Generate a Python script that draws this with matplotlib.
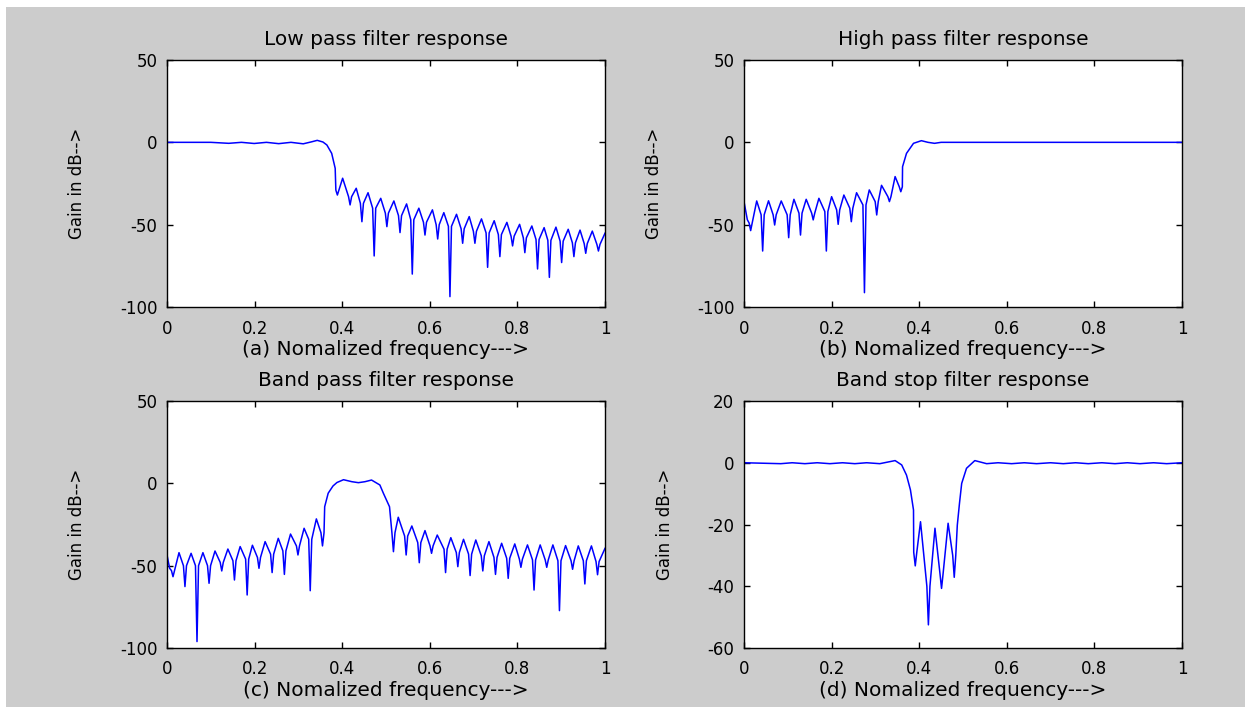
import matplotlib.pyplot as plt
from matplotlib.patches import Rectangle

plt.rcParams['font.family'] = ['DejaVu Sans']
plt.rcParams['axes.unicode_minus'] = False

# ---- low pass: passband, transition and lobe peaks ----
lp_f = [0, 0.10, 0.141, 0.17, 0.199, 0.227, 0.255, 0.283, 0.311, 0.330, 0.343, 0.356,
        0.365, 0.376, 0.384,
        0.401, 0.432, 0.459, 0.488, 0.518, 0.547, 0.575, 0.606, 0.632, 0.661,
        0.690, 0.718, 0.747, 0.776, 0.805, 0.833, 0.861, 0.888, 0.916, 0.943,
        0.971, 1.0]
lp_g = [0, 0, -0.6, 0, -0.7, 0, -0.8, 0, -0.9, 0.3, 1.2, 0.2,
        -1.6, -6.7, -15.8,
        -21.8, -27.9, -30.6, -34, -35.6, -37.4, -40, -41, -42.7, -43.7,
        -45.1, -46.5, -47.6, -48.6, -49.8, -50.8, -51.8, -51.5, -52.8, -53.3,
        -53.9, -55.2]
# nulls: frequency, depth, level where the spike leaves the lobes
lp_nf = [0.389, 0.418, 0.445, 0.473, 0.502, 0.532, 0.560, 0.589, 0.618, 0.646,
         0.675, 0.703, 0.732, 0.760, 0.789, 0.817, 0.846, 0.873, 0.901, 0.929,
         0.956, 0.985]
lp_ng = [-32, -38, -48.2, -69, -51.2, -54.8, -80, -56.3, -58.7, -93.7,
         -61.3, -61.3, -75.9, -69.4, -62.9, -67, -76.9, -82, -73, -69.4,
         -67.4, -66]
lp_ne = [-29, -33, -37, -40, -43, -44.5, -47, -48.5, -50, -51,
         -52.5, -54, -55, -56, -57, -58, -59, -59.5, -60, -61,
         -61.5, -62]

# ---- high pass ----
hp_f = [0, 0.0076,
        0.029, 0.056, 0.085, 0.114, 0.142, 0.171, 0.200, 0.228, 0.257, 0.286, 0.314, 0.345,
        0.362, 0.371, 0.387, 0.405, 0.420, 0.435, 0.450, 1.0]
hp_g = [-36, -47,
        -35.6, -35.5, -35.6, -34.6, -34.6, -34, -33, -32, -30.6, -28.9, -26.1, -20.8,
        -14.8, -6.7, -0.6, 1.0, 0, -0.6, 0, 0]
hp_nf = [0.0152, 0.0426, 0.070, 0.102, 0.129, 0.158, 0.188, 0.215, 0.245, 0.275,
         0.303, 0.332, 0.358]
hp_ng = [-53.6, -66, -50.2, -57.9, -56.3, -47.1, -66, -49.8, -48.2, -91.3,
         -44.1, -36, -30]
hp_ne = [-49, -44, -44, -44, -43, -43, -42, -41, -40, -38,
         -36, -33, -27]

# ---- band pass ----
bp_f = [0, 0.006,
        0.0274, 0.055, 0.082, 0.1096, 0.139, 0.167, 0.195, 0.224, 0.254, 0.282, 0.313, 0.341,
        0.360, 0.368, 0.379, 0.388, 0.403, 0.422, 0.437, 0.452, 0.467, 0.486, 0.494, 0.508,
        0.528, 0.559, 0.589, 0.617, 0.648, 0.677, 0.705, 0.735, 0.764, 0.794,
        0.823, 0.852, 0.881, 0.910, 0.939, 0.969, 1.0]
bp_g = [-43.5, -51.6,
        -42.1, -42.5, -42.1, -41.1, -39.9, -38.4, -37.6, -35.4, -33.4, -30.8, -27.3, -21.6,
        -14.2, -6, -1.6, 0.5, 2.2, 1.0, 0.4, 1.0, 2.0, -1.0, -6, -14.2,
        -20.6, -25.9, -28.7, -31.4, -33, -34, -34.4, -35.4, -36.4, -36.8,
        -37.4, -37.4, -37.4, -37.8, -38, -38, -39.5]
bp_nf = [0.0137, 0.041, 0.0685, 0.096, 0.125, 0.154, 0.183, 0.210, 0.240, 0.268,
         0.299, 0.327, 0.355,
         0.517, 0.546, 0.576, 0.604, 0.636, 0.664, 0.692, 0.721, 0.750, 0.779,
         0.808, 0.838, 0.867, 0.896, 0.926, 0.954, 0.983]
bp_ng = [-56.7, -62.7, -96.1, -60.7, -53.2, -58.7, -67.8, -51.6, -54.2, -55.3,
         -43.5, -65.2, -38,
         -41.5, -43.5, -48.2, -42.5, -54.2, -50.6, -56, -53.2, -55.3, -57.7,
         -51, -64.8, -51, -77.3, -52.2, -61.1, -55.5]
bp_ne = [-53, -50, -50, -50, -48, -47, -46, -45, -43, -41,
         -38, -34, -30,
         -30, -32, -36, -38, -40, -42, -43, -44, -45, -45.5,
         -46, -46.5, -46.5, -47, -47, -47, -47.5]

# ---- band stop ----
bs_f = [0, 0.084, 0.11, 0.139, 0.167, 0.196, 0.225, 0.253, 0.28, 0.31, 0.345, 0.360,
        0.371, 0.380, 0.387,
        0.403, 0.436, 0.466,
        0.487, 0.492, 0.497, 0.508, 0.527, 0.554, 0.58, 0.611, 0.64, 0.668, 0.70,
        0.729, 0.757, 0.786, 0.817, 0.847, 0.875, 0.904, 0.935, 0.965, 1.0]
bs_g = [0, -0.3, 0, -0.3, 0, -0.3, 0, -0.3, 0, -0.3, 0.7, -0.7,
        -4, -8.8, -15.3,
        -19.1, -21.2, -19.6,
        -20.2, -13.1, -6.7, -1.8, 0.7, -0.3, 0, -0.3, 0, -0.3, 0,
        -0.3, 0, -0.3, 0, -0.3, 0, -0.3, 0, -0.3, 0]
bs_nf = [0.391, 0.421, 0.451, 0.480]
bs_ng = [-33.4, -52.5, -40.7, -37.1]
bs_ne = [-29, -40, -36, -30]

titles = ['Low pass filter response', 'High pass filter response',
          'Band pass filter response', 'Band stop filter response']
xlabels = ['(a) Nomalized frequency--->', '(b) Nomalized frequency--->',
           '(c) Nomalized frequency--->', '(d) Nomalized frequency--->']
series = [(lp_f, lp_g, lp_nf, lp_ng, lp_ne),
          (hp_f, hp_g, hp_nf, hp_ng, hp_ne),
          (bp_f, bp_g, bp_nf, bp_ng, bp_ne),
          (bs_f, bs_g, bs_nf, bs_ng, bs_ne)]
ylims = [(-100, 50), (-100, 50), (-100, 50), (-60, 20)]
yticks = [[-100, -50, 0, 50], [-100, -50, 0, 50], [-100, -50, 0, 50], [-60, -40, -20, 0, 20]]
xticks = [0, 0.2, 0.4, 0.6, 0.8, 1]


def trace(f, g, nf, ng, ne, w=0.0035):
    # merge lobe points with the narrow null spikes, ordered by frequency
    pts = list(zip(f, g))
    for a, b, e in zip(nf, ng, ne):
        pts += [(a - w, e), (a, b), (a + w, e)]
    pts.sort()
    return [p[0] for p in pts], [p[1] for p in pts]


W, H = 1251, 707
fig = plt.figure(figsize=(W / 100, H / 100), dpi=100, facecolor='white')
fig.patches.append(Rectangle((6 / W, 0), 1239 / W, 700 / H, transform=fig.transFigure,
                             facecolor='#cccccc', edgecolor='none', zorder=-1))

boxes = [(167, 60), (744, 60), (167, 401), (744, 401)]
for i, (x0, y0) in enumerate(boxes):
    ax = fig.add_axes([x0 / W, 1 - (y0 + 247) / H, 438 / W, 247 / H])
    x, y = trace(*series[i])
    ax.plot(x, y, color='#0000ff', lw=1.1)
    ax.set_xlim(0, 1)
    ax.set_ylim(*ylims[i])
    ax.set_xticks(xticks)
    ax.set_xticklabels(['0', '0.2', '0.4', '0.6', '0.8', '1'])
    ax.set_yticks(yticks[i])
    ax.tick_params(direction='in', top=True, right=True, length=4, width=1,
                   labelsize=12)
    ax.tick_params(axis='x', pad=9)
    ax.tick_params(axis='y', pad=7)
    for s in ax.spines.values():
        s.set_linewidth(1.0)
    ax.set_title(titles[i], fontsize=14.5, pad=11)
    ax.set_xlabel(xlabels[i], fontsize=14.5, labelpad=2)
    ax.set_ylabel('Gain in dB-->', fontsize=12, labelpad=24)

fig.savefig('out.png', dpi=100, facecolor=fig.get_facecolor())
